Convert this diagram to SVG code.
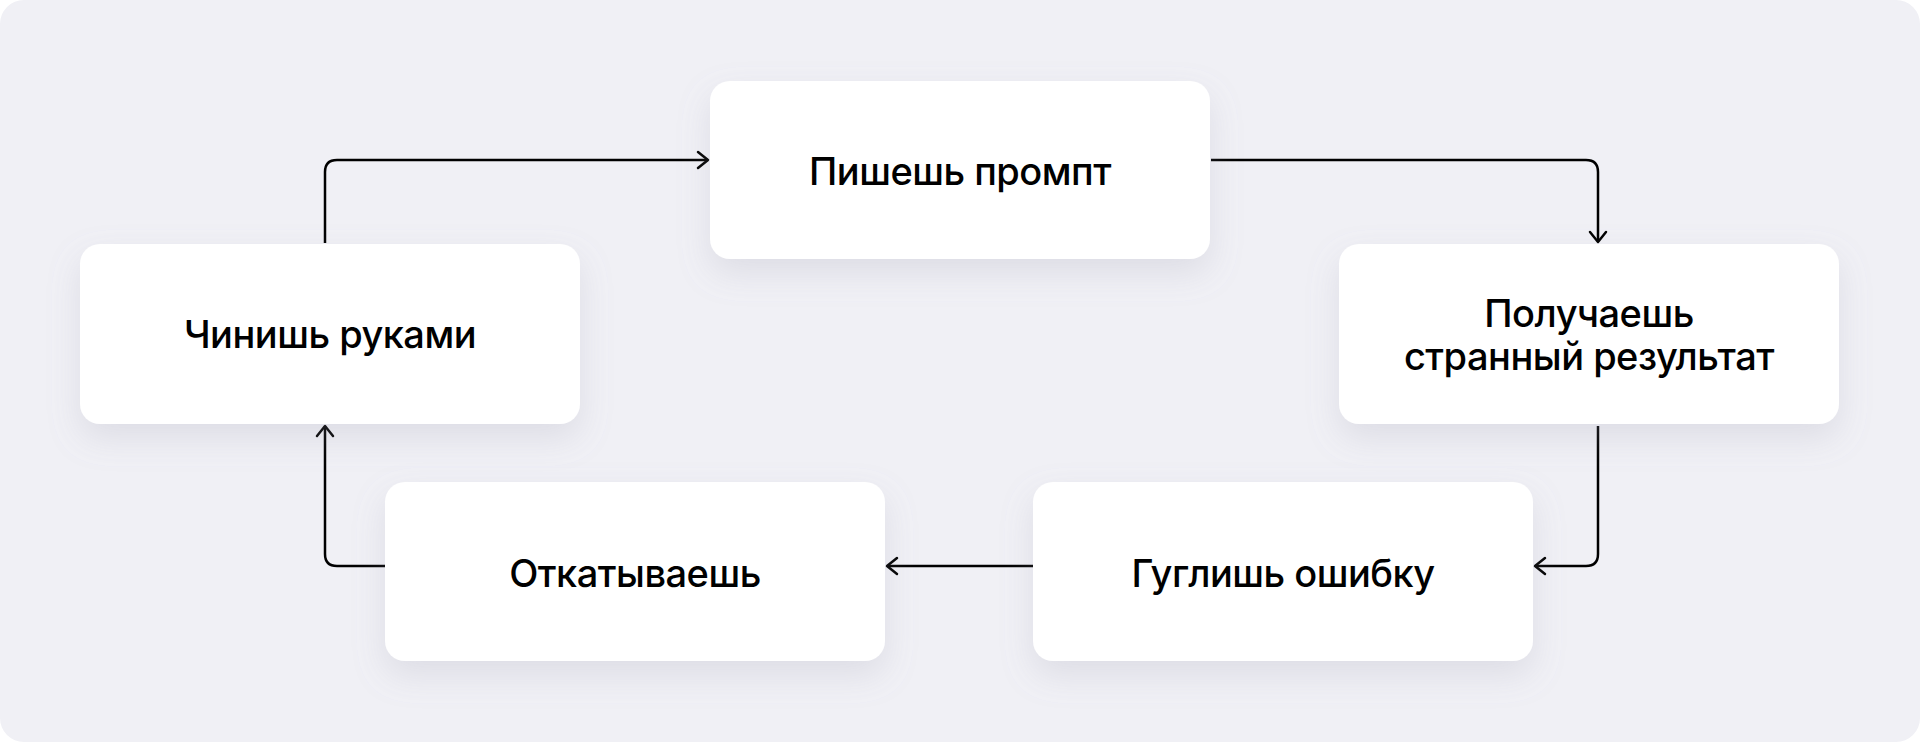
<svg xmlns="http://www.w3.org/2000/svg" width="1920" height="742" viewBox="0 0 1920 742">
  <defs>
    <filter id="sh" x="-20%" y="-30%" width="140%" height="180%">
      <feDropShadow dx="0" dy="14" stdDeviation="16" flood-color="#9a9ab0" flood-opacity="0.22"/>
    </filter>
    <marker id="arr" viewBox="0 0 20 20" refX="16" refY="10" markerWidth="20" markerHeight="20" markerUnits="userSpaceOnUse" orient="auto">
      <path d="M6 2 L16 10 L6 18" fill="none" stroke="#000" stroke-width="2.5" stroke-linecap="round" stroke-linejoin="round"/>
    </marker>
    <style>
      .node rect { fill: #ffffff; filter: url(#sh); }
      .node text { font-family: Inter, "Noto Sans", sans-serif; font-weight: 500; font-size: 38px; fill: #000; text-anchor: middle; letter-spacing: -0.5px; }
      .conn path { fill: none; stroke: #000; stroke-width: 2.5; marker-end: url(#arr); }
    </style>
  </defs>
  <rect x="0" y="0" width="1920" height="742" fill="#ffffff"/>
  <rect x="0" y="0" width="1920" height="742" rx="24" fill="#f0f0f5"/>

  <g class="conn" id="connectors">
    <path d="M325 243 V172 Q325 160 337 160 H708"/>
    <path d="M1211 160 H1586 Q1598 160 1598 172 V242"/>
    <path d="M1598 426 V554 Q1598 566 1586 566 H1535"/>
    <path d="M1033 566 H887"/>
    <path d="M385 566 H337 Q325 566 325 554 V426"/>
  </g>

  <g class="node" id="n-prompt">
    <rect x="710" y="81" width="500" height="178" rx="20"/>
    <text x="960" y="185">Пишешь промпт</text>
  </g>
  <g class="node" id="n-result">
    <rect x="1339" y="244" width="500" height="180" rx="20"/>
    <text x="1589" y="327">Получаешь</text>
    <text x="1589" y="370">странный результат</text>
  </g>
  <g class="node" id="n-google">
    <rect x="1033" y="482" width="500" height="179" rx="20"/>
    <text x="1283" y="587">Гуглишь ошибку</text>
  </g>
  <g class="node" id="n-rollback">
    <rect x="385" y="482" width="500" height="179" rx="20"/>
    <text x="635" y="587">Откатываешь</text>
  </g>
  <g class="node" id="n-fix">
    <rect x="80" y="244" width="500" height="180" rx="20"/>
    <text x="330" y="348">Чинишь руками</text>
  </g>
</svg>
